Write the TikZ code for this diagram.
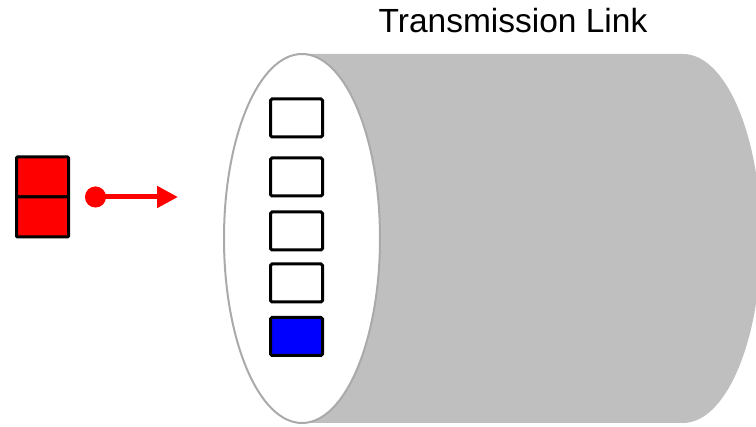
\documentclass[tikz,border=0pt]{standalone}
\usepackage{fontspec}
\setmainfont{Liberation Sans}
\usetikzlibrary{shapes.geometric,arrows.meta}
\definecolor{linkgrey}{RGB}{191,191,191}
\definecolor{rimgrey}{RGB}{170,170,170}
\begin{document}
\begin{tikzpicture}[x=1pt,y=-1pt,
  slot/.style={draw=black,line width=3pt,rounded corners=1.5pt,minimum width=52pt,minimum height=38pt,inner sep=0pt,fill=white},
  cell/.style={draw=black,line width=3pt,rounded corners=1pt,fill=red,minimum width=52pt,minimum height=40pt,inner sep=0pt}]
\useasboundingbox (0,0) rectangle (756,427);
% cylinder body
\fill[linkgrey] (302,54) -- (683,54) arc[start angle=-90,end angle=90,x radius=78,y radius=184.5] -- (302,423) -- cycle;
% open end of the link
\node (mouth) [ellipse,draw=rimgrey,line width=2pt,fill=white,minimum width=156pt,minimum height=369pt,inner sep=0pt] at (302,238.5) {};
% queue slots
\node (s1) [slot] at (296.5,118) {};
\node (s2) [slot] at (296.5,177) {};
\node (s3) [slot] at (296.5,231) {};
\node (s4) [slot] at (296.5,283) {};
\node (s5) [slot,fill=blue] at (296.5,336.5) {};
% incoming packet: two stacked cells
\node (p1) [cell] at (42.5,177) {};
\node (p2) [cell] at (42.5,217) {};
\coordinate (src) at (85,197);
\coordinate (dst) at (178,197);
\draw[red,line width=5pt,{Circle[length=21pt]}-{Triangle[length=21pt,width=21pt]}] (src) -- (dst);
\node (title) [anchor=base,font=\fontsize{33.5}{40}\selectfont,inner sep=0pt] at (513,33) {Transmission Link};
\end{tikzpicture}
\end{document}
